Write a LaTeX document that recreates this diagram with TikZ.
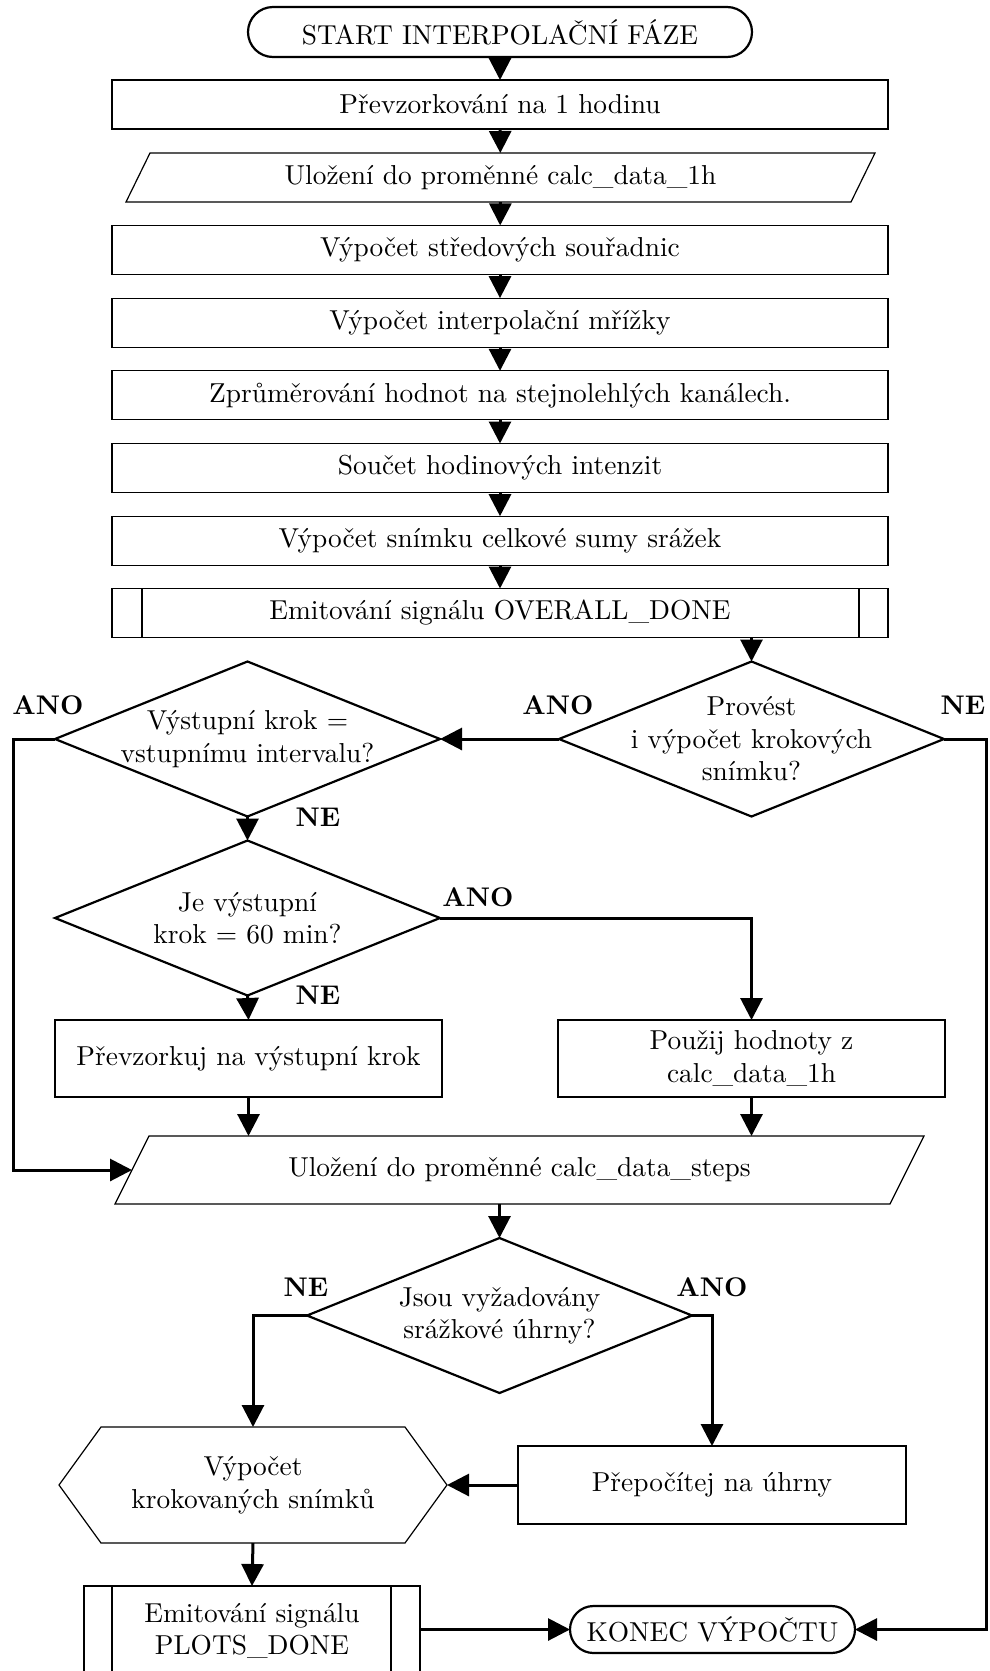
\documentclass[tikz,border=0pt]{standalone}
\usepackage{fontspec}
\setmainfont{lmroman10}[Extension=.otf, UprightFont=*-regular, BoldFont=*-bold, ItalicFont=*-italic, BoldItalicFont=*-bolditalic]
\usetikzlibrary{arrows.meta,shapes.misc,shapes.geometric,calc}
\begin{document}
\begin{tikzpicture}[x=1pt,y=-1pt,
  every node/.style={font=\fontsize{27.4}{32.5}\selectfont, inner sep=0pt, outer sep=0pt},
  proc/.style={draw, line width=1.2pt, minimum width=776pt, minimum height=49pt, align=center},
  smallproc/.style={draw, line width=1.2pt, minimum width=387pt, minimum height=77pt, align=center},
  term/.style={draw, rounded rectangle, line width=2.2pt, align=center},
  dia/.style={draw, diamond, line width=2.2pt, minimum width=385pt, minimum height=155pt},
  plain/.style={align=center},
  lab/.style={font=\fontsize{27}{32.5}\selectfont\bfseries},
  thinline/.style={line width=1.2pt},
  conn/.style={line width=3pt, -{Triangle[length=22pt,width=22pt]}},
]
\useasboundingbox (0,0) rectangle (990,1671);

% main column
\node[term, minimum width=504pt, minimum height=50pt] (start) at (500,32) {START INTERPOLAČNÍ FÁZE};
\node[proc] (b1) at (500,104.5) {Převzorkování na 1 hodinu};
\node[plain, minimum width=725pt, minimum height=49pt] (p1) at (500.5,177.5) {Uložení do proměnné calc\_data\_1h};
\draw[thinline] ($(p1.north west)+(12,0)$) -- ($(p1.north east)+(12,0)$) -- ($(p1.south east)+(-12,0)$) -- ($(p1.south west)+(-12,0)$) -- cycle;
\node[proc] (b3) at (500,249.9) {Výpočet středových souřadnic};
\node[proc] (b4) at (500,322.6) {Výpočet interpolační mřížky};
\node[proc] (b5) at (500,395.3) {Zprůměrování hodnot na stejnolehlých kanálech.};
\node[proc] (b6) at (500,468) {Součet hodinových intenzit};
\node[proc] (b7) at (500,540.7) {Výpočet snímku celkové sumy srážek};
\node[proc] (ov) at (500,613) {Emitování signálu OVERALL\_DONE};
\draw[thinline] ($(ov.north west)+(30,0)$) -- ($(ov.south west)+(30,0)$);
\draw[thinline] ($(ov.north east)+(-29,0)$) -- ($(ov.south east)+(-29,0)$);

% decisions
\node[dia] (d1) at (751.5,739) {};
\node[plain] at (d1) {Provést\\i výpočet krokových\\snímku?};
\node[dia] (d2) at (247.5,739) {};
\node[plain] at (d2) {Výstupní krok =\\vstupnímu intervalu?};
\node[dia] (d3) at (247.5,918) {};
\node[plain] at (d3) {Je výstupní\\krok = 60 min?};

\node[smallproc] (bpre) at (248.5,1058.5) {Převzorkuj na výstupní krok};
\node[smallproc] (buse) at (751.5,1058.5) {Použij hodnoty z\\calc\_data\_1h};

\node[plain, minimum width=775pt, minimum height=68pt] (p2) at (519.5,1170) {Uložení do proměnné calc\_data\_steps};
\draw[thinline] ($(p2.north west)+(17,0)$) -- ($(p2.north east)+(17,0)$) -- ($(p2.south east)+(-17,0)$) -- ($(p2.south west)+(-17,0)$) -- cycle;

\node[dia] (d4) at (499.5,1315.5) {};
\node[plain] at (d4) {Jsou vyžadovány\\srážkové úhrny?};

\node[plain, minimum width=388pt, minimum height=116pt] (hx) at (253,1485) {Výpočet\\krokovaných snímků};
\draw[thinline] (hx.west) -- ($(hx.north west)+(42,0)$) -- ($(hx.north east)+(-42,0)$) -- (hx.east) -- ($(hx.south east)+(-42,0)$) -- ($(hx.south west)+(42,0)$) -- cycle;
\node[smallproc, minimum width=388pt, minimum height=78pt] (bpr) at (712,1485) {Přepočítej na úhrny};

\node[draw, line width=2.2pt, minimum width=336pt, minimum height=90pt, align=center] (pd) at (252,1631) {Emitování signálu\\PLOTS\_DONE};
\draw[line width=2.2pt] ($(pd.north west)+(28,0)$) -- ($(pd.south west)+(28,0)$);
\draw[line width=2.2pt] ($(pd.north east)+(-29,0)$) -- ($(pd.south east)+(-29,0)$);
\node[term, minimum width=285pt, minimum height=47pt] (end) at (712.5,1629.5) {KONEC VÝPOČTU};

\coordinate (lw) at (13,739);
\coordinate (rw) at (986,739);

% connectors
\draw[conn] (start) -- (b1);
\draw[conn] (b1) -- (p1);
\draw[conn] (p1) -- (b3);
\draw[conn] (b3) -- (b4);
\draw[conn] (b4) -- (b5);
\draw[conn] (b5) -- (b6);
\draw[conn] (b6) -- (b7);
\draw[conn] (b7) -- (ov);
\draw[conn] (d1.north |- ov.south) -- (d1.north);
\draw[conn] (d1.west) -- (d2.east);
\draw[conn] (d2.south) -- (d3.north);
\draw[conn] (d2.west) -- (lw) |- (p2.west);
\draw[conn] (d3.east) -| (buse.north);
\draw[conn] (d3.south) -- (bpre.north);
\draw[conn] (bpre.south) -- (bpre.south |- p2.north);
\draw[conn] (buse.south) -- (buse.south |- p2.north);
\draw[conn] (d4.north |- p2.south) -- (d4.north);
\draw[conn] (d4.west) -| (hx.north);
\draw[conn] (d4.east) -| (bpr.north);
\draw[conn] (bpr.west) -- (hx.east);
\draw[conn] (hx.south) -- (pd.north);
\draw[conn] (pd.east |- end.west) -- (end.west);
\draw[conn] (d1.east) -- (rw) |- (end.east);

% labels
\node[lab] at (558,705) {ANO};
\node[lab] at (963,705) {NE};
\node[lab] at (48,705) {ANO};
\node[lab] at (318,817) {NE};
\node[lab] at (478,897) {ANO};
\node[lab] at (318,995) {NE};
\node[lab] at (306,1287) {NE};
\node[lab] at (712,1287) {ANO};
\end{tikzpicture}
\end{document}
